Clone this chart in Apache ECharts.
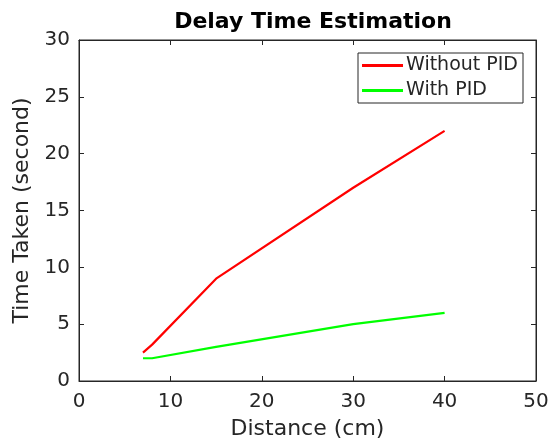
<!DOCTYPE html>
<html>
<head>
    <meta charset="utf-8" />
    <title>Delay Time Estimation</title>
    <script src="https://cdn.jsdelivr.net/npm/echarts@6/dist/echarts.min.js"></script>
    <style>
        html, body { margin: 0; padding: 0; background: #fff; }
        #chart { width: 557px; height: 445px; }
    </style>
</head>
<body>
    <div id="chart"></div>
    <script type="text/javascript">
        // distance (cm)
        var distance = [7, 8, 15, 30, 40];
        // time taken (second)
        var withoutPID = [2.5, 3.2, 9, 17, 22];
        var withPID = [2, 2, 3, 5, 6];

        function pairs(xs, ys) {
            var out = [];
            for (var i = 0; i < xs.length; i++) out.push([xs[i], ys[i]]);
            return out;
        }

        var font = 'DejaVu Sans';
        var axisGray = '#262626';

        var myChart = echarts.init(document.getElementById('chart'));

        // box axes, matlab style: ticks inside on all four sides
        var tickOnly = {
            show: true,
            axisLine: { show: true, onZero: false, lineStyle: { color: axisGray, width: 1 } },
            axisTick: { show: true, inside: true, length: 5, lineStyle: { color: axisGray } },
            axisLabel: { show: false },
            splitLine: { show: false }
        };

        myChart.setOption({
            animation: false,
            title: {
                text: 'Delay Time Estimation',
                left: 308,
                textAlign: 'center',
                top: 6,
                textStyle: { fontFamily: font, fontSize: 22, fontWeight: 'bold', color: '#000' }
            },
            grid: {
                left: 79, right: 21, top: 40, bottom: 61,
                show: true, borderColor: axisGray, borderWidth: 1
            },
            legend: {
                right: 34,
                top: 53,
                orient: 'vertical',
                itemWidth: 41,
                itemHeight: 3,
                itemGap: 6,
                padding: [3, 5, 3, 4],
                borderColor: '#262626',
                borderWidth: 1,
                backgroundColor: '#fff',
                icon: 'rect',
                textStyle: { fontFamily: font, fontSize: 19, color: axisGray, padding: [0, 0, 0, -2] },
                data: ['Without PID', 'With PID']
            },
            xAxis: [{
                type: 'value',
                min: 0,
                max: 50,
                interval: 10,
                name: 'Distance (cm)',
                nameLocation: 'middle',
                nameGap: 37,
                nameTextStyle: { fontFamily: font, fontSize: 22, color: axisGray },
                axisLine: { show: true, onZero: false, lineStyle: { color: axisGray } },
                axisTick: { show: true, inside: true, length: 5, lineStyle: { color: axisGray } },
                axisLabel: { fontFamily: font, fontSize: 20, color: axisGray, margin: 11 },
                splitLine: { show: false }
            }, Object.assign({
                type: 'value', position: 'top', min: 0, max: 50, interval: 10
            }, tickOnly)],
            yAxis: [{
                type: 'value',
                min: 0,
                max: 30,
                interval: 5,
                name: 'Time Taken (second)',
                nameLocation: 'middle',
                nameGap: 43,
                nameTextStyle: { fontFamily: font, fontSize: 22, color: axisGray },
                axisLine: { show: true, onZero: false, lineStyle: { color: axisGray } },
                axisTick: { show: true, inside: true, length: 5, lineStyle: { color: axisGray } },
                axisLabel: { fontFamily: font, fontSize: 20, color: axisGray, margin: 9 },
                splitLine: { show: false }
            }, Object.assign({
                type: 'value', position: 'right', min: 0, max: 30, interval: 5
            }, tickOnly)],
            series: [{
                name: 'Without PID',
                type: 'line',
                data: pairs(distance, withoutPID),
                showSymbol: false,
                symbol: 'none',
                color: '#ff0000',
                lineStyle: { color: '#ff0000', width: 2.2 }
            }, {
                name: 'With PID',
                type: 'line',
                data: pairs(distance, withPID),
                showSymbol: false,
                symbol: 'none',
                color: '#00ff00',
                lineStyle: { color: '#00ff00', width: 2.2 }
            }, {
                // empty series so the top/right tick axes are drawn
                type: 'line',
                xAxisIndex: 1,
                yAxisIndex: 1,
                data: [],
                silent: true
            }]
        });
    </script>
</body>
</html>
